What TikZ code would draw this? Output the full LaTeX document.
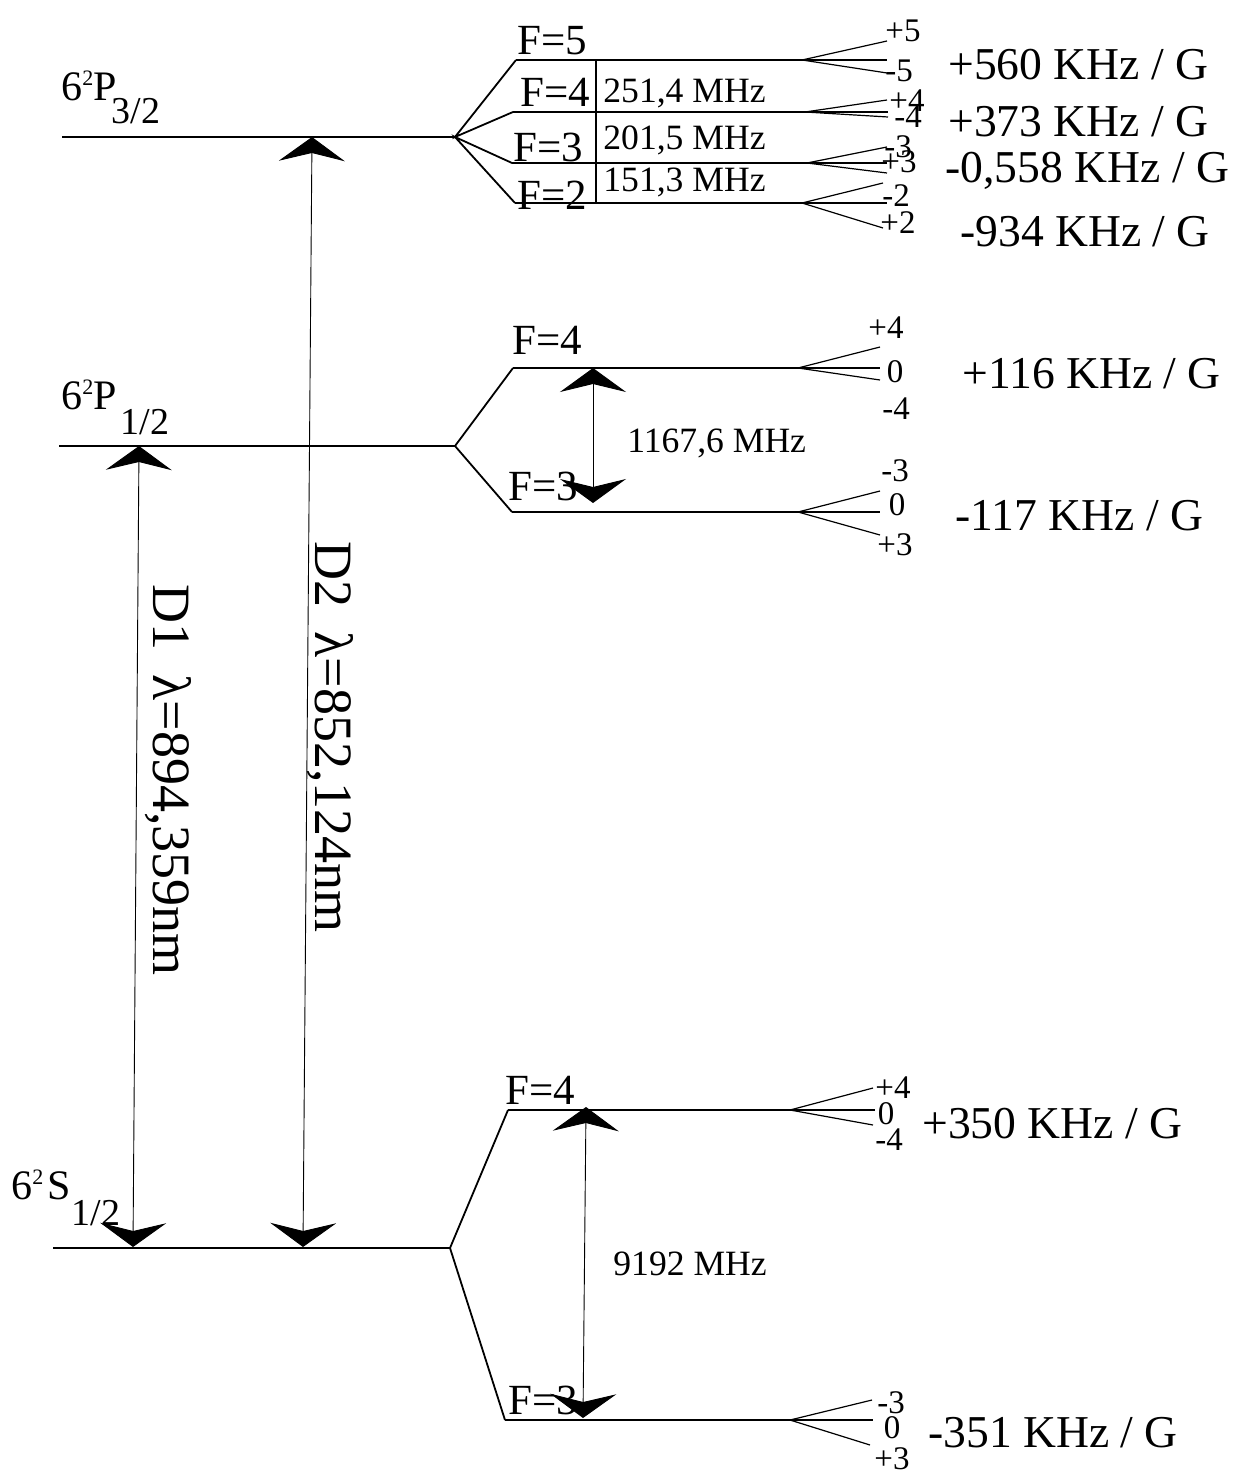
\documentclass[tikz,border=0pt]{standalone}
\usepackage{fontspec}
\setmainfont{Liberation Serif}
\usetikzlibrary{arrows.meta}
\newcommand\termlab[5]{6\raisebox{7.5pt}{\fontsize{11}{11}\selectfont 2}\kern#5#1\kern#4\raisebox{#3}{\fontsize{19}{19}\selectfont #2}}
\begin{document}
\begin{tikzpicture}[x=0.5pt,y=-0.5pt,
  lvl/.style={line width=0.9pt},
  zee/.style={line width=0.6pt},
  trans/.style={line width=0.45pt,{Stealth[length=12pt,width=33pt,inset=4pt]}-{Stealth[length=12pt,width=33pt,inset=4pt]}},
  big/.style={font=\fontsize{22.8}{24}\selectfont,inner sep=0pt,anchor=base west},
  flab/.style={font=\fontsize{21.5}{22}\selectfont,inner sep=0pt,anchor=base west},
  mhz/.style={font=\fontsize{17.8}{18}\selectfont,inner sep=0pt,anchor=base west},
  mf/.style={font=\fontsize{16.5}{16.5}\selectfont,inner sep=0pt},
  term/.style={font=\fontsize{21}{22}\selectfont,inner sep=0pt,anchor=base west},
  dlab/.style={font=\fontsize{27}{28}\selectfont,inner sep=0pt,rotate=-90}]
\useasboundingbox (0,0) rectangle (1236,1476);

% ---------- 6^2P3/2 ----------
\coordinate (P3a) at (62,137);
\coordinate (P3f) at (455,137);
\coordinate (H5a) at (516,60);  \coordinate (H5b) at (802,60);
\coordinate (H4a) at (513,112); \coordinate (H4b) at (805,112);
\coordinate (H3a) at (512,163); \coordinate (H3b) at (807,163);
\coordinate (H2a) at (515,203); \coordinate (H2b) at (802,203);
\draw[lvl] (P3a) -- (P3f);
\draw[lvl] (H5a) -- (P3f) -- (H4a);
\draw[lvl] (H3a) -- (P3f) -- (H2a);
\draw[lvl] (H5a) -- (H5b); \draw[lvl] (H4a) -- (H4b);
\draw[lvl] (H3a) -- (H3b); \draw[lvl] (H2a) -- (H2b);
\coordinate (dv1) at (596,60); \coordinate (dv2) at (596,203);
\draw[zee] (dv1) -- (dv2);
% Zeeman fans
\coordinate (z5u) at (887,41);  \coordinate (z5m) at (887,60);  \coordinate (z5d) at (887,73);
\coordinate (z4u) at (887,100); \coordinate (z4m) at (888,112); \coordinate (z4d) at (888,117);
\coordinate (z3u) at (887,147); \coordinate (z3m) at (887,163); \coordinate (z3d) at (887,173);
\coordinate (z2u) at (883,183); \coordinate (z2m) at (887,203); \coordinate (z2d) at (883,228);
\draw[zee] (z5u) -- (H5b) -- (z5d); \draw[zee] (H5b) -- (z5m);
\draw[zee] (z4u) -- (H4b) -- (z4d); \draw[zee] (H4b) -- (z4m);
\draw[zee] (z3u) -- (H3b) -- (z3d); \draw[zee] (H3b) -- (z3m);
\draw[zee] (z2u) -- (H2b) -- (z2d); \draw[zee] (H2b) -- (z2m);
\node[mf] (m5p) at (903,31) {+5};
\node[mf] (m5m) at (899,71) {-5};
\node[mf] (m4p) at (907,101) {+4};
\node[mf] (m4m) at (908,117) {-4};
\node[mf] (m3m) at (898,147) {-3};
\node[mf] (m3p) at (899,162) {+3};
\node[mf] (m2m) at (896,196) {-2};
\node[mf] (m2p) at (898,223) {+2};
\node[flab] (lF5) at (517,55) {F=5};
\node[flab] (lF4) at (520,107) {F=4};
\node[flab] (lF3) at (513,162) {F=3};
\node[flab] (lF2) at (517,210) {F=2};
\node[mhz] (s1) at (603,103) {251,4 MHz};
\node[mhz] (s2) at (603,150) {201,5 MHz};
\node[mhz] (s3) at (603,192) {151,3 MHz};
\node[big] (g5) at (948,80) {+560 KHz / G};
\node[big] (g4) at (948,137) {+373 KHz / G};
\node[big] (g3) at (945,183) {-0,558 KHz / G};
\node[big] (g2) at (960,247) {-934 KHz / G};
\node[term] (tP3) at (61,101) {\termlab{P}{3/2}{-11.5pt}{-2.5pt}{0pt}};

% ---------- 6^2P1/2 ----------
\coordinate (P1a) at (59,446);
\coordinate (P1f) at (455,446);
\coordinate (J4a) at (513,368); \coordinate (J4b) at (798,368);
\coordinate (J3a) at (512,512); \coordinate (J3b) at (798,512);
\draw[lvl] (P1a) -- (P1f);
\draw[lvl] (J4a) -- (P1f) -- (J3a);
\draw[lvl] (J4a) -- (J4b); \draw[lvl] (J3a) -- (J3b);
\coordinate (y4u) at (880,347); \coordinate (y4m) at (880,368); \coordinate (y4d) at (880,380);
\coordinate (y3u) at (880,491); \coordinate (y3m) at (880,512); \coordinate (y3d) at (880,535);
\draw[zee] (y4u) -- (J4b) -- (y4d); \draw[zee] (J4b) -- (y4m);
\draw[zee] (y3u) -- (J3b) -- (y3d); \draw[zee] (J3b) -- (y3m);
\node[mf] (n4p) at (886,328) {+4};
\node[mf] (n40) at (895,372) {0};
\node[mf] (n4m) at (896,409) {-4};
\node[mf] (n3m) at (895,471) {-3};
\node[mf] (n30) at (897,505) {0};
\node[mf] (n3p) at (895,545) {+3};
\node[flab] (lJ4) at (512,355) {F=4};
\node[flab] (lJ3) at (508,500) {F=3};
\node[mhz] (s4) at (627,452) {1167,6 MHz};
\node[big] (g6) at (962,388) {+116 KHz / G};
\node[big] (g7) at (955,530) {-117 KHz / G};
\node[term] (tP1) at (61,409) {\termlab{P}{1/2}{-12.5pt}{2pt}{0pt}};
\coordinate (a1t) at (593,368); \coordinate (a1b) at (593,503);
\draw[trans] (a1b) -- (a1t);

% ---------- 6^2S1/2 ----------
\coordinate (Sa) at (53,1248);
\coordinate (Sf) at (450,1248);
\coordinate (K4a) at (508,1110); \coordinate (K4b) at (790,1110);
\coordinate (K3a) at (505,1420); \coordinate (K3b) at (790,1420);
\draw[lvl] (Sa) -- (Sf);
\draw[lvl] (K4a) -- (Sf) -- (K3a);
\draw[lvl] (K4a) -- (K4b); \draw[lvl] (K3a) -- (K3b);
\coordinate (x4u) at (873,1088); \coordinate (x4m) at (875,1110); \coordinate (x4d) at (873,1125);
\coordinate (x3u) at (872,1400); \coordinate (x3m) at (873,1420); \coordinate (x3d) at (870,1445);
\draw[zee] (x4u) -- (K4b) -- (x4d); \draw[zee] (K4b) -- (x4m);
\draw[zee] (x3u) -- (K3b) -- (x3d); \draw[zee] (K3b) -- (x3m);
\node[mf] (k4p) at (893,1088) {+4};
\node[mf] (k40) at (886,1114) {0};
\node[mf] (k4m) at (889,1140) {-4};
\node[mf] (k3m) at (891,1403) {-3};
\node[mf] (k30) at (892,1428) {0};
\node[mf] (k3p) at (892,1459) {+3};
\node[flab] (lK4) at (505,1104) {F=4};
\node[flab] (lK3) at (508,1414) {F=3};
\node[mhz] (s5) at (613,1275) {9192 MHz};
\node[big] (g8) at (922,1138) {+350 KHz / G};
\node[big] (g9) at (928,1447) {-351 KHz / G};
\node[term] (tS) at (11,1199) {\termlab{S}{1/2}{-13pt}{0.5pt}{2pt}};
\coordinate (a2t) at (586,1107); \coordinate (a2b) at (583,1418);
\draw[trans] (a2b) -- (a2t);

% ---------- D1 / D2 ----------
\coordinate (d1t) at (139,446); \coordinate (d1b) at (133,1247);
\coordinate (d2t) at (312,137); \coordinate (d2b) at (303,1247);
\draw[trans] (d1b) -- (d1t);
\draw[trans] (d2b) -- (d2t);
\node[dlab] (D1) at (168,780) {D1\hspace{0.45em}λ=894,359nm};
\node[dlab] (D2) at (330,737) {D2\hspace{0.45em}λ=852,124nm};
\end{tikzpicture}
\end{document}
